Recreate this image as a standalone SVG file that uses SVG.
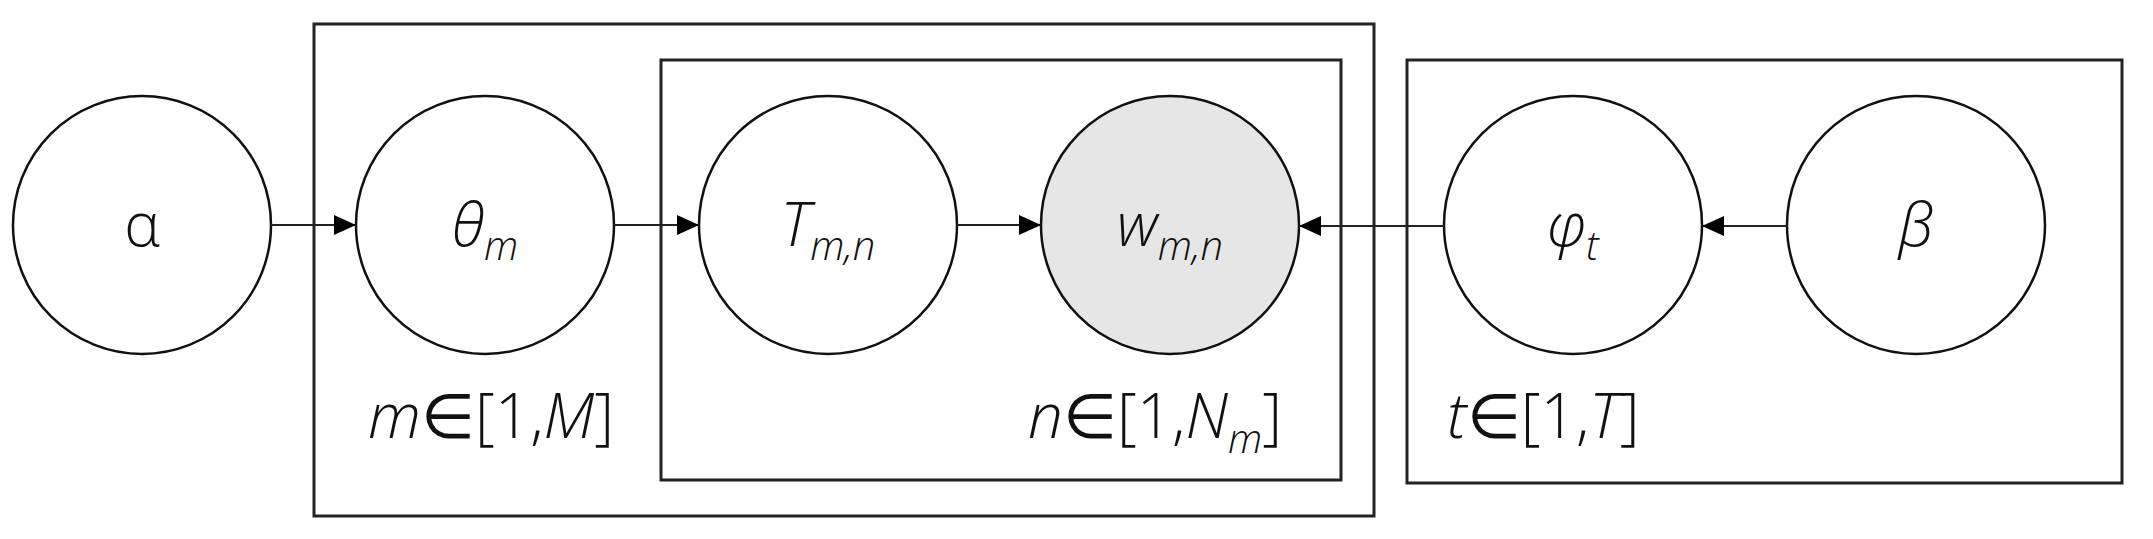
<svg xmlns="http://www.w3.org/2000/svg" width="2153" height="539" viewBox="0 0 2153 539">
<defs>
<marker id="ah" markerWidth="22" markerHeight="20" refX="22" refY="10" orient="auto" markerUnits="userSpaceOnUse"><path d="M0,0 L22,10 L0,20 Z" fill="#000"/></marker>
</defs>
<style>
.plate{fill:none;stroke:#222;stroke-width:3}
.node{fill:#fff;stroke:#111;stroke-width:2.5}
.obs{fill:#e6e6e6}
.lbl{font-family:"Open Sans","DejaVu Sans",sans-serif;font-weight:300;font-size:60px;fill:#111;text-anchor:middle}
.it{font-style:italic}
.sub{font-size:40px;font-style:italic}
.pl{font-family:"Open Sans","DejaVu Sans",sans-serif;font-weight:300;font-size:62px;fill:#111}
.edge{stroke:#222;stroke-width:2;fill:none;marker-end:url(#ah)}
</style>
<rect fill="#fff" width="2153" height="539"/>
<g id="plate-m"><rect class="plate" x="314" y="24" width="1060" height="492"/><text class="pl" x="368" y="438"><tspan class="it">m</tspan>∈[1,<tspan class="it">M</tspan>]</text></g>
<g id="plate-n"><rect class="plate" x="661" y="60" width="680" height="420"/><text class="pl" x="1028" y="438"><tspan class="it">n</tspan>∈[1,<tspan class="it">N</tspan><tspan class="sub" dy="15">m</tspan><tspan dy="-15">]</tspan></text></g>
<g id="plate-t"><rect class="plate" x="1407" y="60" width="715" height="423"/><text class="pl" x="1447" y="438"><tspan class="it">t</tspan>∈[1,<tspan class="it">T</tspan>]</text></g>
<g id="alpha"><circle class="node" cx="142" cy="225" r="129"/><text class="lbl" x="142" y="246">α</text></g>
<g id="theta"><circle class="node" cx="485" cy="225" r="129"/><text class="lbl" x="485" y="246"><tspan class="it">θ</tspan><tspan class="sub" dy="14">m</tspan></text></g>
<g id="T"><circle class="node" cx="828" cy="225" r="129"/><text class="lbl" x="828" y="246"><tspan class="it">T</tspan><tspan class="sub" dy="14">m,n</tspan></text></g>
<g id="w"><circle class="node obs" cx="1170" cy="225" r="129"/><text class="lbl" x="1170" y="246"><tspan class="it">w</tspan><tspan class="sub" dy="14">m,n</tspan></text></g>
<g id="phi"><circle class="node" cx="1573" cy="225" r="129"/><text class="lbl" x="1573" y="246"><tspan class="it">φ</tspan><tspan class="sub" dy="14">t</tspan></text></g>
<g id="beta"><circle class="node" cx="1916" cy="225" r="129"/><text class="lbl it" x="1916" y="246">β</text></g>
<g id="edges">
<line class="edge" x1="271" y1="225" x2="356" y2="225"/>
<line class="edge" x1="614" y1="225" x2="699" y2="225"/>
<line class="edge" x1="957" y1="225" x2="1041" y2="225"/>
<line class="edge" x1="1444" y1="226" x2="1299" y2="226"/>
<line class="edge" x1="1787" y1="226" x2="1702" y2="226"/>
</g>
</svg>
